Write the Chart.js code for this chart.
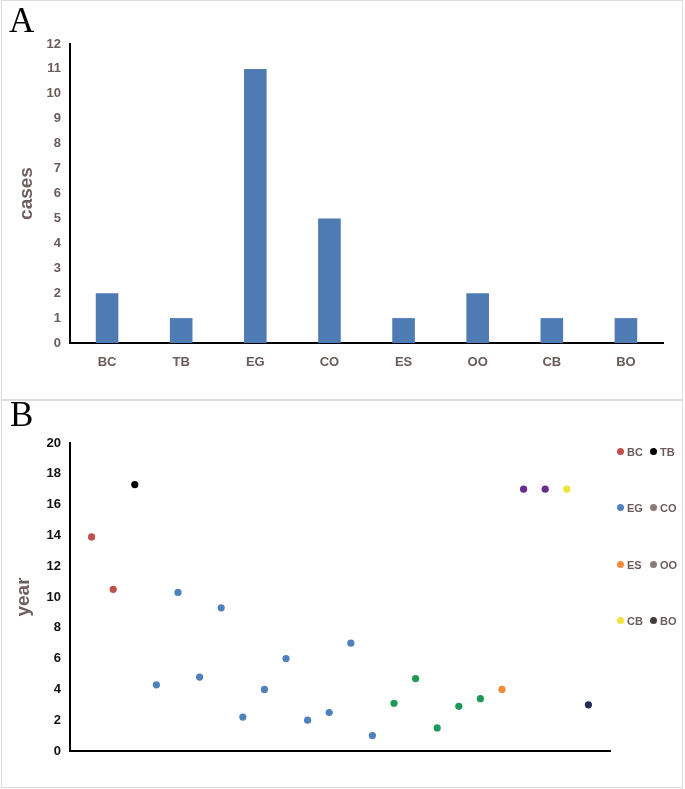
<!DOCTYPE html>
<html>
<head>
<meta charset="utf-8">
<script src="https://cdn.jsdelivr.net/npm/chart.js@4.4.0/dist/chart.umd.min.js"></script>
<style>
  body { margin: 0; background: #fff; }
  #wrap { position: relative; width: 685px; height: 789px; overflow: hidden; }
  canvas { position: absolute; left: 0; }
  .panel { position: absolute; box-sizing: border-box; border: 1px solid #dcdcdc; pointer-events: none; }
  .tag { position: absolute; font-family: 'Liberation Serif', serif; font-size: 35px; color: #000; line-height: 1; }
  .leg { position: absolute; font-family: 'Liberation Sans', Arial, sans-serif; font-weight: bold; font-size: 11px; color: #6b5b5b; line-height: 12px; white-space: nowrap; }
  .leg i { display: inline-block; width: 7px; height: 7px; border-radius: 50%; margin-right: 3px; vertical-align: 1px; }
</style>
</head>
<body>
<div id="wrap">
  <canvas id="casos" width="685" height="399" style="top:0"></canvas>
  <canvas id="anos" width="685" height="389" style="top:400px"></canvas>
  <div class="panel" style="left:1px;top:0;width:682px;height:400px"></div>
  <div class="panel" style="left:1px;top:400px;width:682px;height:388px"></div>
  <div class="tag" style="left:9px;top:3px">A</div>
  <div class="tag" style="left:10px;top:397px">B</div>
  <div id="legenda"></div>
</div>
<script>
// dados ================================
const categories = ['BC','TB','EG','CO','ES','OO','CB','BO'];
const caseCounts = [2,1,11,5,1,2,1,1];

// anos por grupo (ordem dos casos no eixo x)
const bcYears = [13.9, 10.5];
const tbYears = [17.3];
const egYears = [4.3, 10.3, 4.8, 9.3, 2.2, 4.0, 6.0, 2.0, 2.5, 7.0, 1.0];
const coYears = [3.1, 4.7, 1.5, 2.9, 3.4];
const esYears = [4.0];
const ooYears = [17, 17];
const cbYears = [17];
const boYears = [3.0];

const pointColors = ['#c0504d','#000000','#4f81bd','#1d9a58','#f38b3d','#6a2c8f','#efe43a','#1f2c5a'];
const legendColors = ['#c0504d','#000000','#4f81bd','#8a7b77','#f38b3d','#8a7b77','#efe43a','#453b3b'];

const tickColorA = '#6b5b5b'
const titleColor = '#6e5f5f'

Chart.defaults.font.family = "'Liberation Sans', Arial, sans-serif"
Chart.defaults.animation = false

// A ====================================
const casos = document.getElementById('casos');

new Chart(casos, {
  type: 'bar',
  data: {
    labels: categories,
    datasets: [{
      data: caseCounts,
      backgroundColor: '#4f7bb5',
      barPercentage: 0.305,
      categoryPercentage: 1
    }]
  },
  options: {
    responsive: false,
    layout: { padding: { top: 44, right: 22, left: 0, bottom: 0 } },
    plugins: { legend: { display: false }, tooltip: { enabled: false } },
    scales: {
      x: {
        grid: { display: false, drawTicks: false },
        border: { color: '#000', width: 2 },
        ticks: { color: tickColorA, font: { size: 13, weight: 'bold' }, padding: 12 },
        afterFit: s => { s.height = 56 }
      },
      y: {
        min: 0,
        max: 12,
        grid: { display: false, drawTicks: false },
        border: { color: '#000', width: 2 },
        ticks: { stepSize: 1, color: tickColorA, font: { size: 13, weight: 'bold' }, padding: 9 },
        title: { display: true, text: 'cases', color: titleColor, font: { size: 19, weight: 'bold' }, padding: { top: 15, bottom: 0 } },
        afterFit: s => { s.width = 70 }
      }
    }
  }
});

// B ====================================
const grupos = [bcYears, tbYears, egYears, coYears, esYears, ooYears, cbYears, boYears]
let n = 0
const conjuntos = grupos.map((anos, g) => {
  const pts = anos.map(a => { n += 1; return { x: n, y: a } })
  return {
    label: categories[g],
    data: pts,
    backgroundColor: pointColors[g],
    borderWidth: 0,
    pointRadius: 3.6,
    pointHoverRadius: 3.6
  }
})

const anosCanvas = document.getElementById('anos');

new Chart(anosCanvas, {
  type: 'scatter',
  data: { datasets: conjuntos },
  options: {
    responsive: false,
    layout: { padding: { top: 43, right: 75, left: 0, bottom: 0 } },
    plugins: { legend: { display: false }, tooltip: { enabled: false } },
    scales: {
      x: {
        type: 'linear',
        min: 0,
        max: 25,
        grid: { display: false, drawTicks: false },
        border: { color: '#000', width: 2 },
        ticks: { display: false },
        afterFit: s => { s.height = 38 }
      },
      y: {
        min: 0,
        max: 20,
        grid: { display: false, drawTicks: false },
        border: { color: '#000', width: 2 },
        ticks: { stepSize: 2, color: '#111', font: { size: 13, weight: 'bold' }, padding: 9 },
        title: { display: true, text: 'year', color: titleColor, font: { size: 19, weight: 'bold' }, padding: { top: 12, bottom: 0 } },
        afterFit: s => { s.width = 70 }
      }
    }
  }
});

// legenda em duas colunas
const legenda = document.getElementById('legenda')
categories.forEach((c, i) => {
  const el = document.createElement('div')
  el.className = 'leg'
  el.style.left = (i % 2 ? 650 : 617) + 'px'
  el.style.top = (446 + Math.floor(i / 2) * 56.3) + 'px'
  el.innerHTML = '<i style="background:' + legendColors[i] + '"></i>' + c
  legenda.appendChild(el)
})
</script>
</body>
</html>
